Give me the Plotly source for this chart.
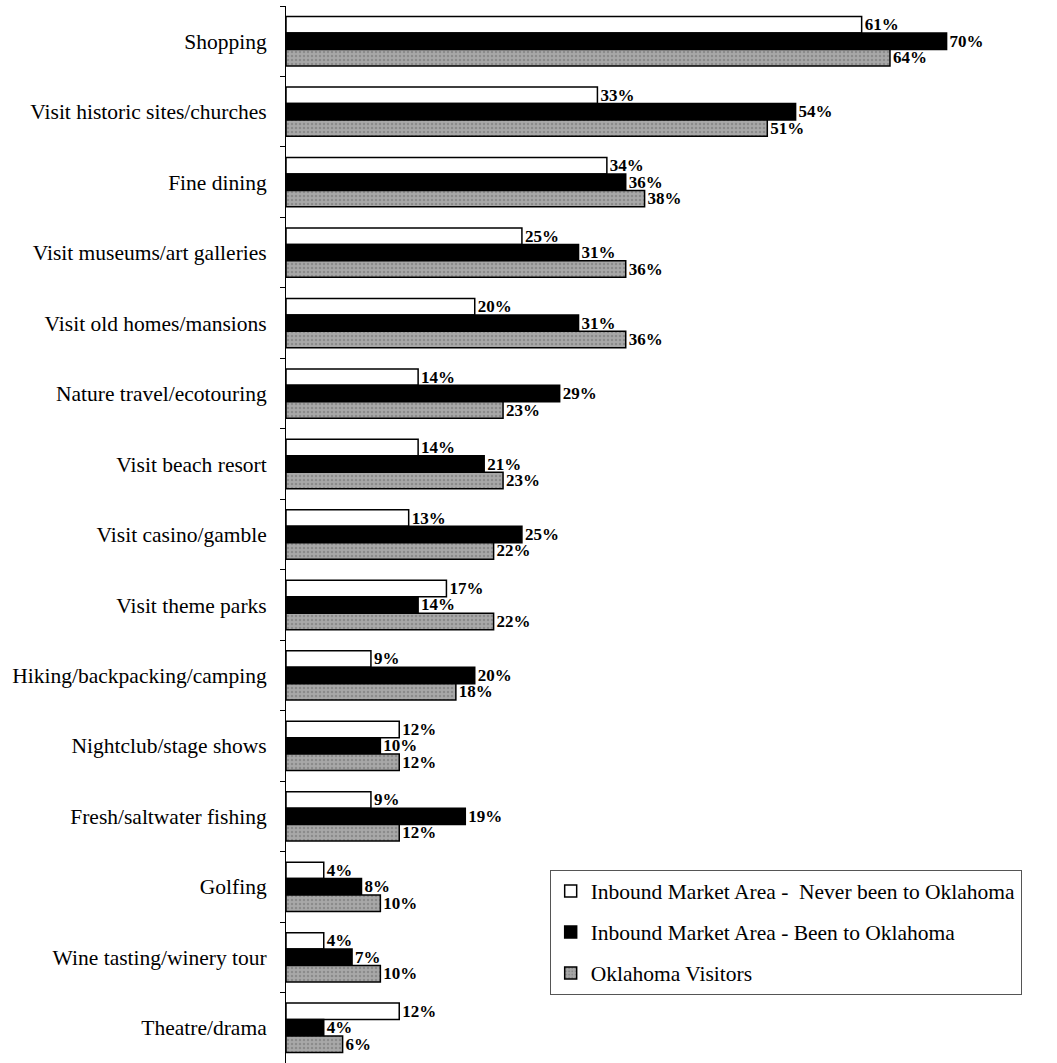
import plotly.graph_objects as go

categories = [
    "Shopping", "Visit historic sites/churches", "Fine dining",
    "Visit museums/art galleries", "Visit old homes/mansions",
    "Nature travel/ecotouring", "Visit beach resort", "Visit casino/gamble",
    "Visit theme parks", "Hiking/backpacking/camping", "Nightclub/stage shows",
    "Fresh/saltwater fishing", "Golfing", "Wine tasting/winery tour", "Theatre/drama",
]
never_been = [61, 33, 34, 25, 20, 14, 14, 13, 17, 9, 12, 9, 4, 4, 12]
been = [70, 54, 36, 31, 31, 29, 21, 25, 14, 20, 10, 19, 8, 7, 4]
visitors = [64, 51, 38, 36, 36, 23, 23, 22, 22, 18, 12, 12, 10, 10, 6]

series_names = [
    "Inbound Market Area -  Never been to Oklahoma",
    "Inbound Market Area - Been to Oklahoma",
    "Oklahoma Visitors",
]

FONT = "Liberation Serif"
fig = go.Figure()
styles = [
    dict(color="white", pattern=None),
    dict(color="black", pattern=None),
    dict(color="#9c9c9c", pattern=dict(shape=".", fgcolor="#6e6e6e", bgcolor="#a8a8a8", size=4, solidity=0.3)),
]
for name, vals, st, g in zip(series_names, [never_been, been, visitors], styles, ["a", "b", "c"]):
    marker = dict(color=st["color"], line=dict(color="black", width=1.5))
    if st["pattern"]:
        marker["pattern"] = st["pattern"]
    fig.add_trace(go.Bar(
        y=categories, x=vals, name=name, orientation="h", marker=marker,
        text=[f"<b>{v}%</b>" for v in vals], textposition="outside",
        textfont=dict(family=FONT, size=17, color="black"),
        constraintext="none",
        cliponaxis=False, legendgroup=g,
    ))

fig.update_layout(
    width=1057, height=1063,
    margin=dict(l=286, r=0, t=6, b=0),
    barmode="group", bargap=0.3, bargroupgap=0,
    plot_bgcolor="white", paper_bgcolor="white",
    font=dict(family=FONT, size=21, color="black"),
    showlegend=True,
    legend=dict(
        x=0.342, y=0.183, xanchor="left", yanchor="top",
        bordercolor="#555", borderwidth=1, bgcolor="white",
        font=dict(family=FONT, size=21.5, color="black"),
        tracegroupgap=10,
    ),
)
fig.update_xaxes(range=[0, 81.7], visible=False, showgrid=False)
fig.update_yaxes(
    autorange="reversed", showline=True, linecolor="black", linewidth=1,
    ticks="outside", ticklen=5, tickcolor="black", tickson="boundaries",
    ticklabelstandoff=14, showgrid=False,
    tickfont=dict(family=FONT, size=21.5, color="black"),
)
fig.write_html("out.html")
